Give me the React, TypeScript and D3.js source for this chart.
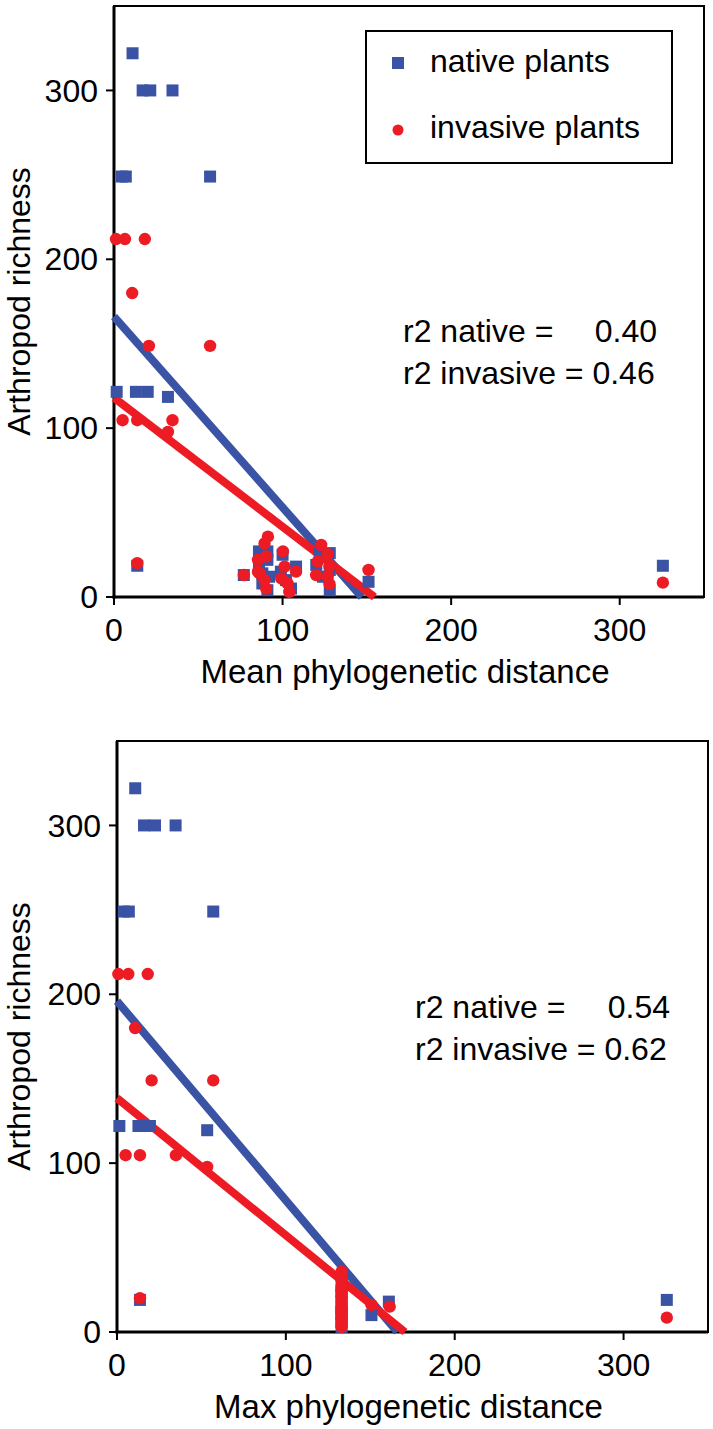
import React from "react";
import * as d3 from "d3";

type Pt = [number, number];

const TICKS = [0, 100, 200, 300];
const DOMAIN: [number, number] = [0, 350];

// Panel 1: Mean phylogenetic distance
const NATIVE_MEAN: Pt[] = [
  [11, 322], [17, 300], [21.5, 300], [34.7, 300], [4.5, 249], [7, 249], [57, 249],
  [1.6, 121.5], [13, 121.5], [20, 121.5], [32, 118.5], [13.8, 18.5], [77, 13],
  [86, 27], [91, 27], [86, 20], [91, 22], [88, 14], [92, 12], [88, 8], [91, 4],
  [100, 25], [108, 18], [102, 10], [105, 5], [99, 15],
  [120, 19], [122, 26], [128, 26], [124, 12], [128, 16], [128, 4],
  [151, 9], [325.6, 18.5],
];
const INVASIVE_MEAN: Pt[] = [
  [1.2, 212], [6.5, 212], [18.3, 212], [10.8, 180], [20.7, 148.7], [57, 148.7],
  [5.1, 104.7], [13.8, 104.7], [34.7, 104.7], [32, 97.8], [13.8, 20], [77, 13],
  [91.3, 35.7], [89.3, 31.7], [85.4, 22], [90.3, 24], [85.4, 15], [86.4, 14], [89.3, 10], [90.3, 5],
  [100.2, 27], [101.2, 18], [99.2, 11], [108, 15], [103, 8], [104, 3],
  [122.9, 30.8], [126.8, 25.4], [120.9, 21], [127.8, 18], [119.9, 13], [126.8, 12], [127.8, 7.7],
  [151, 16], [325.6, 8.5],
];
const FIT_MEAN_NATIVE: Pt[] = [[0, 166], [147, 0]];
const FIT_MEAN_INVASIVE: Pt[] = [[0, 118], [154.5, 0]];
const R2_MEAN = ["0.40", "0.46"];

// Panel 2: Max phylogenetic distance
const NATIVE_MAX: Pt[] = [
  [10.8, 322], [16, 300], [22.5, 300], [34.7, 300], [4, 249], [7, 249], [57, 249],
  [1.4, 122], [12.7, 122], [19.5, 122], [53.4, 119.5], [13.6, 19],
  [133, 27], [133, 22], [133, 18], [133, 14], [133, 10], [133, 6], [133, 3],
  [150.7, 10], [161, 18], [325.6, 19],
];
const INVASIVE_MAX: Pt[] = [
  [0.8, 212], [6.7, 212], [18.2, 212], [10.7, 180], [20.5, 149], [57, 149],
  [5.1, 104.7], [13.6, 104.7], [34.9, 104.7], [53.4, 97.8], [13.6, 20],
  [133, 35.7], [133, 31.7], [133, 30.8], [133, 27], [133, 25.4], [133, 24], [133, 22], [133, 21],
  [133, 18], [133, 15], [133, 14], [133, 13], [133, 12], [133, 11], [133, 10], [133, 8],
  [133, 7.7], [133, 5], [133, 3],
  [150.7, 16], [161.5, 15], [325.6, 8.5],
];
const FIT_MAX_NATIVE: Pt[] = [[0, 196], [166, 0]];
const FIT_MAX_INVASIVE: Pt[] = [[0, 138.5], [170.5, 0]];
const R2_MAX = ["0.54", "0.62"];

const BLUE = "#3a53a4";
const RED = "#ed1c24";
const FONT = "'Liberation Sans', Arial, Helvetica, sans-serif";
const FS = 32;
const FS_TITLE = 33;

interface PanelProps {
  x0: number; x1: number; yTop: number; yBot: number;
  native: Pt[]; invasive: Pt[]; fitN: Pt[]; fitI: Pt[];
  xTitle: string; r2: string[]; r2x: number; r2xEnd: number; r2y: number;
  legend: boolean;
}

function Panel(p: PanelProps) {
  const x = d3.scaleLinear().domain(DOMAIN).range([p.x0, p.x1]);
  const y = d3.scaleLinear().domain(DOMAIN).range([p.yBot, p.yTop]);
  const line = d3.line<Pt>().x((d) => x(d[0])).y((d) => y(d[1]));
  const sq = 12;
  return (
    <g>
      <rect x={p.x0} y={p.yTop} width={p.x1 - p.x0} height={p.yBot - p.yTop} fill="none" stroke="#000" strokeWidth={2} />
      <line x1={p.x0} x2={p.x0} y1={p.yTop} y2={p.yBot + 1.5} stroke="#000" strokeWidth={3} />
      <line x1={p.x0 - 1.5} x2={p.x1} y1={p.yBot} y2={p.yBot} stroke="#000" strokeWidth={3} />
      {TICKS.map((t) => (
        <g key={"y" + t}>
          <line x1={p.x0 - 8} x2={p.x0} y1={y(t)} y2={y(t)} stroke="#000" strokeWidth={2} />
          <text x={p.x0 - 16} y={y(t)} dy="0.35em" textAnchor="end" fontSize={FS} fontFamily={FONT}>{t}</text>
        </g>
      ))}
      {TICKS.map((t) => (
        <g key={"x" + t}>
          <line x1={x(t)} x2={x(t)} y1={p.yBot} y2={p.yBot + 8} stroke="#000" strokeWidth={2} />
          <text x={x(t)} y={p.yBot + 44} textAnchor="middle" fontSize={FS} fontFamily={FONT}>{t}</text>
        </g>
      ))}
      <text x={(p.x0 + p.x1) / 2 - 4} y={p.yBot + 86} textAnchor="middle" fontSize={FS_TITLE} fontFamily={FONT}>{p.xTitle}</text>
      <text transform={`translate(30,${(p.yTop + p.yBot) / 2}) rotate(-90)`} textAnchor="middle" fontSize={FS} fontFamily={FONT}>Arthropod richness</text>
      <path d={line(p.fitN) || ""} stroke={BLUE} strokeWidth={8} fill="none" />
      <path d={line(p.fitI) || ""} stroke={RED} strokeWidth={8} fill="none" />
      {p.native.map((d, i) => (
        <rect key={"n" + i} x={x(d[0]) - sq / 2} y={y(d[1]) - sq / 2} width={sq} height={sq} fill={BLUE} />
      ))}
      {p.invasive.map((d, i) => (
        <circle key={"i" + i} cx={x(d[0])} cy={y(d[1])} r={6.2} fill={RED} />
      ))}
      <text x={p.r2x} y={p.r2y} fontSize={FS} fontFamily={FONT}>r2 native =</text>
      <text x={p.r2xEnd} y={p.r2y} textAnchor="end" fontSize={FS} fontFamily={FONT}>{p.r2[0]}</text>
      <text x={p.r2x} y={p.r2y + 42} fontSize={FS} fontFamily={FONT}>r2 invasive = {p.r2[1]}</text>
      {p.legend && (
        <g>
          <rect x={366} y={31} width={306} height={132} fill="#fff" stroke="#000" strokeWidth={2} />
          <rect x={392} y={57} width={12} height={12} fill={BLUE} />
          <circle cx={398} cy={130} r={5.5} fill={RED} />
          <text x={430} y={72} fontSize={FS} fontFamily={FONT}>native plants</text>
          <text x={430} y={138} fontSize={FS} fontFamily={FONT}>invasive plants</text>
        </g>
      )}
    </g>
  );
}

export default function App() {
  return (
    <div style={{ position: "absolute", left: 0, top: 0, width: 713, height: 1429, background: "#fff" }}>
      <svg width={713} height={1429} style={{ display: "block" }}>
        <rect width={713} height={1429} fill="#fff" />
        <Panel x0={114} x1={704} yTop={6} yBot={597}
          native={NATIVE_MEAN} invasive={INVASIVE_MEAN}
          fitN={FIT_MEAN_NATIVE} fitI={FIT_MEAN_INVASIVE}
          xTitle="Mean phylogenetic distance" r2={R2_MEAN}
          r2x={403} r2xEnd={657} r2y={342} legend={true} />
        <Panel x0={117} x1={708} yTop={741} yBot={1332}
          native={NATIVE_MAX} invasive={INVASIVE_MAX}
          fitN={FIT_MAX_NATIVE} fitI={FIT_MAX_INVASIVE}
          xTitle="Max phylogenetic distance" r2={R2_MAX}
          r2x={415} r2xEnd={670} r2y={1018} legend={false} />
      </svg>
    </div>
  );
}
